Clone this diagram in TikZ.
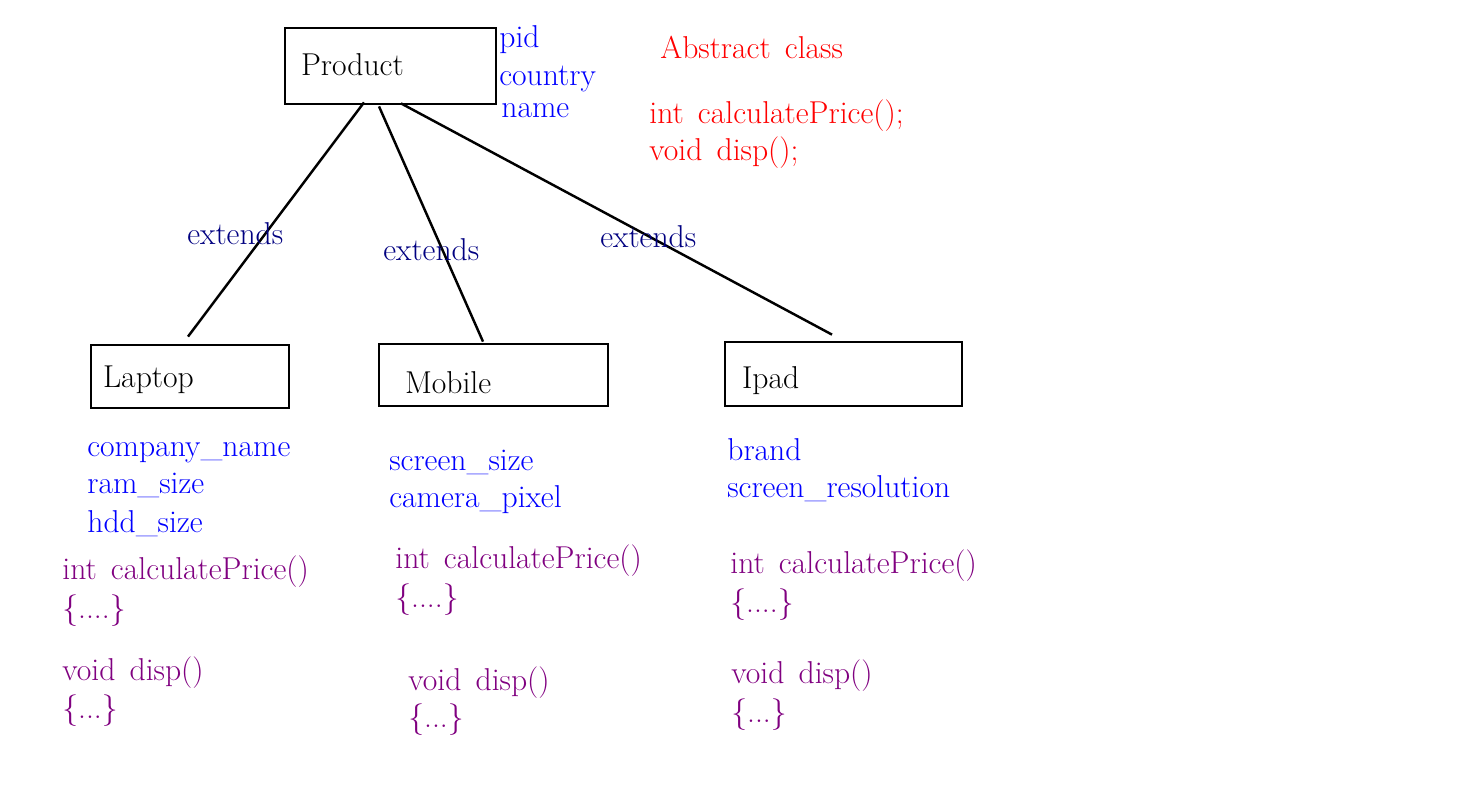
\documentclass[tikz,border=0pt]{standalone}
\usetikzlibrary{positioning, calc}
\definecolor{navyblue}{RGB}{0,0,128}
\definecolor{methodpurple}{RGB}{128,0,128}
\newcommand{\wsp}{\hspace{0.45em}}

\begin{document}
\begin{tikzpicture}[x=0.02cm, y=-0.02cm,
					classbox/.style={rectangle,
					draw=black,
					line width=1.6pt,
					inner ysep=0pt,
					align=left,
					font=\fontsize{18}{22}\selectfont},
					fieldtext/.style={anchor=base west,
					inner sep=0pt,
					text=blue,
					font=\fontsize{18}{22}\selectfont},
					methodtext/.style={anchor=base west,
					inner sep=0pt,
					text=methodpurple,
					font=\fontsize{18}{22}\selectfont},
					abstext/.style={anchor=base west,
					inner sep=0pt,
					text=red,
					font=\fontsize{18}{22}\selectfont},
					extlabel/.style={anchor=base west,
					inner sep=0pt,
					text=navyblue,
					font=\fontsize{18}{22}\selectfont},
					connector/.style={draw=black, line width=1.4pt}
					]

% fixed page size
\useasboundingbox (0,0) rectangle (1481,795);

% class boxes
\node[classbox, minimum width=4.22cm, text width=3.58cm, inner xsep=0.32cm,
      text height=0.94cm, text depth=0.58cm] (product) at (390.5,66) {Product};
\node[classbox, minimum width=3.96cm, text width=3.48cm, inner xsep=0.24cm,
      text height=0.84cm, text depth=0.42cm] (laptop) at (190,376.5) {Laptop};
\node[classbox, minimum width=4.58cm, text width=3.54cm, inner xsep=0.52cm,
      text height=0.98cm, text depth=0.26cm] (mobile) at (493.5,375) {Mobile};
\node[classbox, minimum width=4.74cm, text width=4.06cm, inner xsep=0.34cm,
      text height=0.92cm, text depth=0.36cm] (ipad) at (843.5,374) {Ipad};

% inheritance lines
\draw[connector] ($(product.south)+(-26.5,-3)$) -- ($(laptop.north)+(-2,-7)$);
\draw[connector] ($(product.south)+(-11.5,1)$) -- ($(mobile.north)+(-10.5,-1)$);
\draw[connector] ($(product.south)+(10.5,-2)$) -- ($(ipad.north)+(-11.5,-6)$);

\node[extlabel] (ext1) at (187,244) {extends};
\node[extlabel] (ext2) at (383,260) {extends};
\node[extlabel] (ext3) at (600,247) {extends};

% product fields and abstract methods
\node[fieldtext] (pid) at (499,47) {pid};
\node[fieldtext] (country) at (499,85) {country};
\node[fieldtext] (pname) at (501,117) {name};

\node[abstext] (abs) at (660,58) {Abstract\wsp class};
\node[abstext] (abscalc) at (649,123) {int\wsp calculatePrice();};
\node[abstext] (absdisp) at (649,160) {void\wsp disp();};

% laptop members
\node[fieldtext] (lcomp) at (87,456) {company\_name};
\node[fieldtext] (lram) at (87,493) {ram\_size};
\node[fieldtext] (lhdd) at (87,532) {hdd\_size};
\node[methodtext] (lcalc) at (62,579) {int\wsp calculatePrice()};
\node[methodtext] (lcalcb) at (62,618) {\{....\}};
\node[methodtext] (ldisp) at (62,680) {void\wsp disp()};
\node[methodtext] (ldispb) at (62,718) {\{...\}};

% mobile members
\node[fieldtext] (mscreen) at (389,470) {screen\_size};
\node[fieldtext] (mcam) at (389,507) {camera\_pixel};
\node[methodtext] (mcalc) at (395,568) {int\wsp calculatePrice()};
\node[methodtext] (mcalcb) at (395,607) {\{....\}};
\node[methodtext] (mdisp) at (408,690) {void\wsp disp()};
\node[methodtext] (mdispb) at (408,727) {\{...\}};

% ipad members
\node[fieldtext] (ibrand) at (727,460) {brand};
\node[fieldtext] (ires) at (727,497) {screen\_resolution};
\node[methodtext] (icalc) at (730,573) {int\wsp calculatePrice()};
\node[methodtext] (icalcb) at (730,612) {\{....\}};
\node[methodtext] (idisp) at (731,683) {void\wsp disp()};
\node[methodtext] (idispb) at (731,722) {\{...\}};

\end{tikzpicture}
\end{document}
